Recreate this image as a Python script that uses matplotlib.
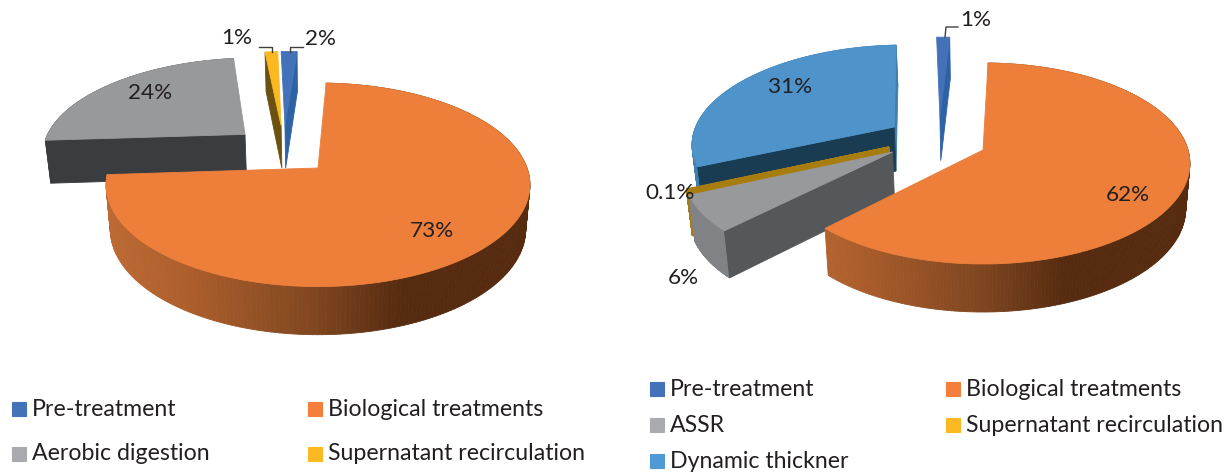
import numpy as np
import matplotlib
matplotlib.use('Agg')
import matplotlib.pyplot as plt
from matplotlib.patches import Polygon, Rectangle

plt.rcParams['font.family'] = ['Lato', 'DejaVu Sans']

# values
left_names = ['Pre-treatment', 'Biological treatments', 'Aerobic digestion', 'Supernatant recirculation']
left_values = [1.5, 73, 24, 1.2]
left_labels = ['2%', '73%', '24%', '1%']

right_names = ['Pre-treatment', 'Biological treatments', 'ASSR', 'Supernatant recirculation', 'Dynamic thickner']
right_values = [1.2, 62, 6, 0.1, 31]
right_labels = ['1%', '62%', '6%', '0.1%', '31%']

# colours
BLUE = '#4472b8'
ORANGE = '#ed7f3a'
GREY = '#98999b'
YELLOW = '#fbb820'
SKY = '#4e94cb'
TEXT = '#231f20'

# walls: which of the two flat cut faces can be seen (0 first edge, -1 last edge)
# rim: colour of the outer wall, None for the orange shading, False when it faces away
left_style = [
    dict(top=BLUE, side='#2f62a5', rim=False, off=(-0.17, 0.46), walls=(-1,)),
    dict(top=ORANGE, side='#8a4a20', rim=None, off=(0, 0), walls=()),
    dict(top=GREY, side='#3a3d40', rim='#55585a', off=(-0.37, 0.36), walls=(0,)),
    dict(top=YELLOW, side='#6b5210', rim=False, off=(-0.19, 0.46), walls=(0,)),
]
right_style = [
    dict(top=BLUE, side='#2f62a5', rim=False, off=(-0.22, 0.35), walls=(-1,)),
    dict(top=ORANGE, side='#8a4a20', rim=None, off=(0, 0), walls=()),
    dict(top=GREY, side='#54585b', rim='#808285', off=(-0.44, -0.02), walls=(0,)),
    dict(top='#a87d10', side='#a87d10', rim='#a87d10', off=(-0.46, 0.03), walls=(0,), lw=1.0),
    dict(top=SKY, side='#1a3c53', side_end='#3f7fae', rim='#3f7fae', off=(-0.447, 0.24), walls=(-1, 0)),
]

left_geom = dict(cx=318, cy=168, R=209, Rs=99, k=0.165, depth=44, shrink=0.98, start=-2.8)
right_geom = dict(cx=983, cy=150, R=205, Rs=98.7, k=0.134, depth=44.7, shrink=0.98, start=-2.7)

# orange outer wall shading, by position across the pie (0 left, 1 right)
shade_pos = [0.0, 0.2, 0.5, 0.7, 1.0]
shade_col = np.array([[189, 106, 51], [172, 94, 44], [127, 70, 32], [86, 43, 16], [86, 43, 16]]) / 255


def project(g, u, v):
    d = 1 + g['k'] * v
    return g['cx'] + g['R'] * u / d, g['cy'] - g['Rs'] * v / d


def drop(g, u, v):
    x, y = project(g, u, v)
    d = 1 + g['k'] * v
    return g['cx'] + (x - g['cx']) * g['shrink'], y + g['depth'] / np.sqrt(d)


def draw_slice(ax, g, a0, a1, st):
    lw = st.get('lw', 0.6)
    ou, ov = st['off']
    t = np.radians(np.linspace(a0, a1, 240))
    u = ou + np.sin(t)
    v = ov + np.cos(t)
    # outer wall
    if st['rim'] is not False:
        for i in range(len(t) - 1):
            pts = [project(g, u[i], v[i]), project(g, u[i + 1], v[i + 1]), drop(g, u[i + 1], v[i + 1]), drop(g, u[i], v[i])]
            if st['rim'] is None:
                f = (pts[0][0] - g['cx'] + g['R'] * 1.02) / (2 * g['R'] * 1.02)
                col = [np.interp(f, shade_pos, shade_col[:, c]) for c in range(3)]
            else:
                col = st['rim']
            ax.add_patch(Polygon(pts, closed=True, fc=col, ec=col, lw=0.6))
    # flat walls
    for i in st['walls']:
        col = st.get('side_end', st['side']) if i == -1 else st['side']
        pts = [project(g, ou, ov), project(g, u[i], v[i]), drop(g, u[i], v[i]), drop(g, ou, ov)]
        ax.add_patch(Polygon(pts, closed=True, fc=col, ec=col, lw=lw))
    # top face
    pts = [project(g, ou, ov)] + [project(g, a, b) for a, b in zip(u, v)]
    ax.add_patch(Polygon(pts, closed=True, fc=st['top'], ec=st['top'], lw=lw))


def draw_pie(ax, g, values, styles, order):
    total = sum(values)
    edges = g['start'] + np.concatenate([[0], np.cumsum(values)]) / total * 360
    for i in order:
        draw_slice(ax, g, edges[i], edges[i + 1], styles[i])


def legend_item(ax, x, y, name, col):
    ax.add_patch(Rectangle((x, y - 7), 14, 14, fc=col, ec=col, lw=0.8))
    ax.text(x + 20, y, name, fontsize=16.7, color=TEXT, va='center', ha='left')


fig = plt.figure(figsize=(12.32, 4.74), dpi=100)
ax = fig.add_axes([0, 0, 1, 1])
ax.set_xlim(0, 1232)
ax.set_ylim(474, 0)
ax.axis('off')

draw_pie(ax, left_geom, left_values, left_style, [3, 0, 2, 1])
draw_pie(ax, right_geom, right_values, right_style, [0, 4, 3, 2, 1])

# leader lines
ax.plot([259, 272, 272], [47, 47, 52], color='#404040', lw=1)
ax.plot([303, 290, 290], [47, 47, 52], color='#404040', lw=1)
ax.plot([958, 946, 945], [27, 27, 37], color='#404040', lw=1)

for (x, y), s in zip([(321, 39), (432, 231), (150, 93), (237, 38)], left_labels):
    ax.text(x, y, s, fontsize=16.2, color=TEXT, ha='center', va='center')
for (x, y), s in zip([(976, 20), (1128, 195), (683, 278), (670, 193), (790, 87)], right_labels):
    ax.text(x, y, s, fontsize=16.2, color=TEXT, ha='center', va='center')

left_cols = ['#4472b8', '#f47f3c', '#a9abae', '#fdb924']
right_cols = ['#4472b8', '#f47f3c', '#a9abae', '#fdb924', '#4f9ad4']
left_pos = [(12, 409), (308, 409), (12, 454), (308, 454)]
right_pos = [(650, 389), (946, 389), (650, 425), (946, 425), (650, 461)]
for (x, y), n, c in zip(left_pos, left_names, left_cols):
    legend_item(ax, x, y, n, c)
for (x, y), n, c in zip(right_pos, right_names, right_cols):
    legend_item(ax, x, y, n, c)

fig.savefig('out.png', dpi=100)
